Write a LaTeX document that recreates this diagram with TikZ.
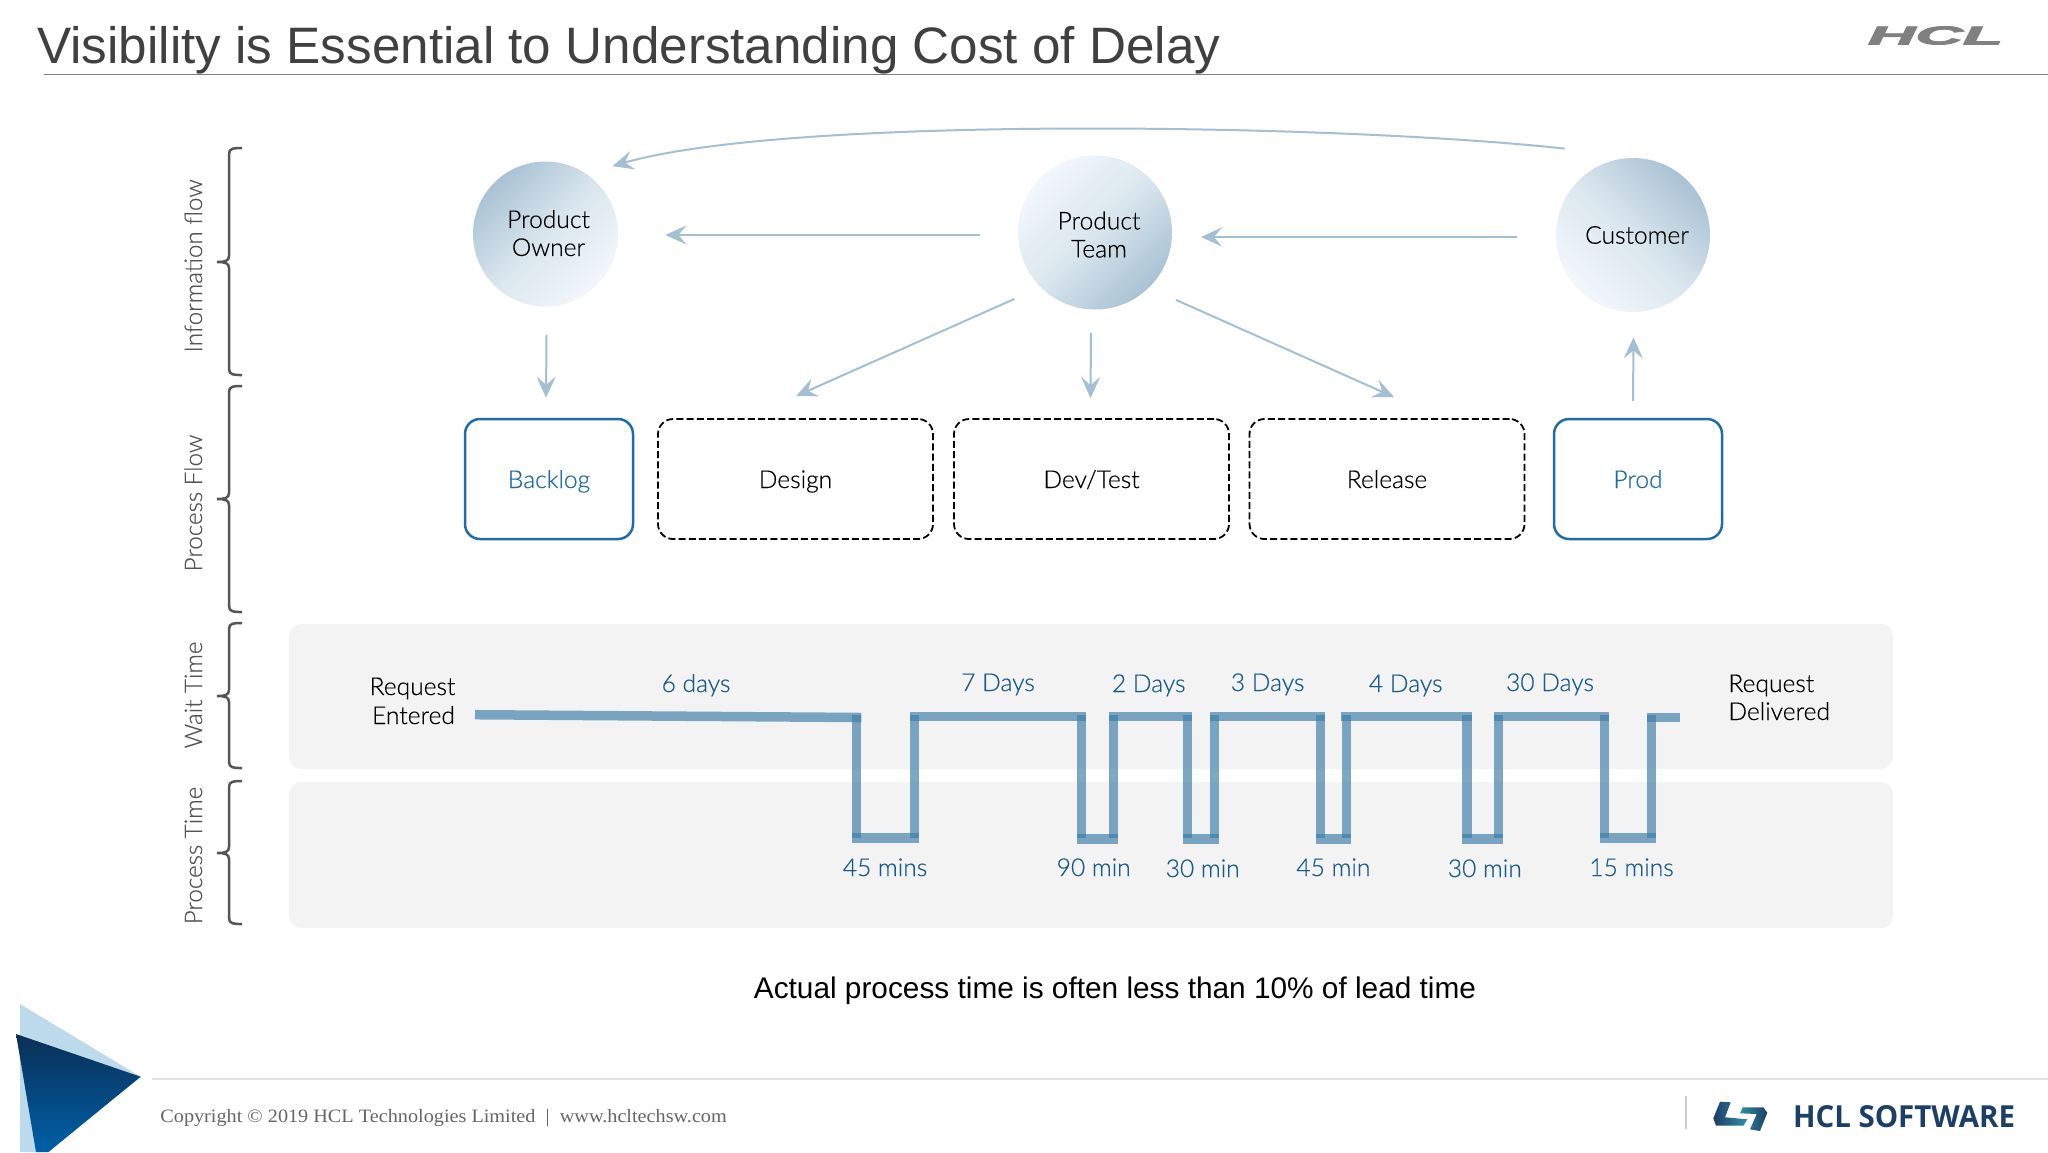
\documentclass[tikz,border=0pt]{standalone}
\usepackage{fontspec}
\usepackage{graphicx}
\usetikzlibrary{arrows.meta,calc,shapes.geometric}
\setmainfont{Lato Light}[FakeBold=0.4]
\newfontfamily\arialf{Liberation Sans}
\newfontfamily\copyf{Liberation Serif}[FakeStretch=1.07]
\newfontfamily\brandf{Open Sans}
\newfontfamily\hclf{Liberation Sans Bold Italic}[FakeBold=3]
\definecolor{flow}{HTML}{A3BFD3}
\definecolor{wave}{HTML}{3F7FA9}
\definecolor{bluetext}{HTML}{185C8A}
\definecolor{boxblue}{HTML}{1F6CA8}
\definecolor{panelc}{HTML}{F3F3F4}
\definecolor{brace}{HTML}{555555}
\definecolor{ballA}{HTML}{A9C2D4}
\definecolor{ballM}{HTML}{DAE6EE}
\definecolor{ballB}{HTML}{F2F7FC}
\definecolor{brand}{HTML}{1C3F66}
\definecolor{teal}{HTML}{2E8FA3}
\definecolor{triL}{HTML}{BDD9EC}
\definecolor{triT}{HTML}{0A2F55}
\definecolor{triB}{HTML}{0060A8}
\tikzset{
  lab/.style={font=\fontsize{12.3}{14}\selectfont,inner sep=0pt,anchor=base},
  bluelab/.style={lab,text=bluetext,font=\fontsize{12.3}{14}\selectfont},
  sidelab/.style={lab,rotate=90,text=brace,font=\fontsize{12.1}{14}\selectfont},
  bubble/.style={circle,inner sep=0pt,align=center,font=\fontsize{12.3}{14}\selectfont},
  stagebox/.style={rectangle,rounded corners=7.5pt,minimum height=60pt,inner sep=0pt,text height=9pt,text depth=0pt,font=\fontsize{12.3}{14}\selectfont},
  solidbox/.style={stagebox,draw=boxblue,line width=1.25pt,minimum width=84pt,text=boxblue},
  dashbox/.style={stagebox,draw=black,line width=.9pt,dash pattern=on 3.5pt off 1.6pt,minimum width=137.5pt},
  flowline/.style={draw=flow,line width=1pt,-{Stealth[length=10.5pt,width=9.5pt,inset=4pt]}},
  flowwide/.style={flowline,line width=1.3pt},
  panel/.style={fill=panelc,rounded corners=6pt},
  wavebar/.style={draw=wave,opacity=.68,line width=4.75pt},
  bracepath/.style={draw=brace,line width=1.25pt}
}
\newcommand{\levelbrace}[3]{%
  \draw[bracepath] (242,#1) .. controls (234,#1) and (229,#1) .. (229,{#1+6}) -- (229,{#2-6})
    .. controls (229,{#2-1}) and (225,#2) .. (217,#2) .. controls (225,#2) and (229,{#2+1}) .. (229,{#2+6})
    -- (229,{#3-6}) .. controls (229,#3) and (234,#3) .. (242,#3);}
\begin{document}
\begin{tikzpicture}[x=.5pt,y=-.5pt]
\useasboundingbox (0,0) rectangle (2048,1152);
\fill[white] (0,0) rectangle (2048,1152);
% header
\node[lab,anchor=base west,text=black!75,font=\arialf\fontsize{25.6}{30}\selectfont] (title) at (37,63.5) {Visibility is Essential to Understanding Cost of Delay};
\draw[black!50,line width=.75pt] (44,74.5) -- (2048,74.5);
\node[inner sep=0pt,text=black!50] (hcltop) at (1935.5,35.5) {\resizebox{67.5pt}{9pt}{\hclf HCL}};
% panels
\fill[panel] (289,624) rectangle (1893,769);
\fill[panel] (289,782) rectangle (1893,928);
% braces
\levelbrace{148}{262}{375}
\levelbrace{386}{499}{612}
\levelbrace{623}{696}{768}
\levelbrace{781}{853}{924}
\node[sidelab] (s1) at (202,265.8) {Information flow};
\node[sidelab] (s2) at (202,503) {Process Flow};
\node[sidelab] (s3) at (202,695) {Wait Time};
\node[sidelab] (s4) at (202,855.5) {Process Time};
% bubbles
\node[bubble,minimum size=72.5pt,top color=ballA,bottom color=ballB,middle color=ballM,shading angle=45] (po) at (545.5,234) {\hspace*{3pt}Product\\\hspace*{3pt}Owner\rule[-1pt]{0pt}{0pt}};
\node[bubble,minimum size=77pt,top color=ballB,bottom color=ballA,middle color=ballM,shading angle=45] (pt) at (1095,232.5) {\rule{0pt}{11pt}\hspace*{4pt}Product\\\hspace*{4pt}Team};
\node[bubble,minimum size=77pt,top color=ballA,bottom color=ballB,middle color=ballM,shading angle=-45] (cu) at (1633,235) {\hspace*{4pt}Customer};
% boxes
\node[solidbox] (backlog) at (549,479) {Backlog};
\node[dashbox] (design) at (795.5,479) {Design};
\node[dashbox] (dev) at (1091.5,479) {Dev/Test};
\node[dashbox] (release) at (1387,479) {Release};
\node[solidbox] (prod) at (1638,479) {Prod};
% connectors
\draw[flowwide] ($(pt.west)+(-38,2.5)$) -- ($(po.east)+(47,1)$);
\draw[flowwide] ($(cu.west)+(-38.5,2)$) -- ($(pt.east)+(28.5,4.5)$);
\draw[flowline] ($(cu.north)+(-68.5,-9)$) .. controls (1340,124) and (790,115) .. ($(po.north)+(67,5)$);
\draw[flowline] ($(po.south)+(1,28)$) -- ($(backlog.north)+(-3,-20)$);
\draw[flowline] ($(pt.south)+(-80.5,-11)$) -- ($(design.north)+(.5,-22)$);
\draw[flowline] ($(pt.south)+(-4,23)$) -- ($(dev.north)+(-1,-20)$);
\draw[flowline] ($(pt.south)+(81,-10)$) -- ($(release.north)+(7,-21)$);
\draw[flowline] ($(prod.north)+(-5,-17)$) -- ($(cu.south)+(.5,25)$);
% wave
\draw[wavebar] (475,714.7) -- (861.3,717.5);
\foreach \a/\b in {910/1086,1109/1192,1210/1325,1341/1472,1494/1609.4}
  \draw[wavebar] (\a,716.5) -- (\b,716.5);
\draw[wavebar] (1647,717.5) -- (1680,717.5);
\foreach \a/\b/\c in {851.7/919.3/838,1077/1118.3/839,1182.7/1219/839,1315.6/1351/839,1462.3/1502.6/839,1599.5/1656.4/838}
  \draw[wavebar] (\a,\c) -- (\b,\c);
\foreach \a in {856.5,914.7,1081.7,1113.7,1187.3,1214.3,1320.3,1346.4,1467,1498.3,1604.4,1651.7}
  \draw[wavebar] (\a,715) -- (\a,838);
% wave labels
\node[bluelab] (w1) at (696,692) {6 days};
\node[bluelab] (w2) at (998,691) {7 Days};
\node[bluelab] (w3) at (1148.7,692) {2 Days};
\node[bluelab] (w4) at (1267.6,691) {3 Days};
\node[bluelab] (w5) at (1405.7,692) {4 Days};
\node[bluelab] (w6) at (1550,691) {30 Days};
\node[bluelab] (m1) at (885,876) {45 mins};
\node[bluelab] (m2) at (1093.7,876) {90 min};
\node[bluelab] (m3) at (1202.7,877) {30 min};
\node[bluelab] (m4) at (1333.4,876) {45 min};
\node[bluelab] (m5) at (1484.8,877) {30 min};
\node[bluelab] (m6) at (1631.5,876) {15 mins};
\node[lab,anchor=base] (req1) at (412.5,695) {Request};
\node[lab,anchor=base] (req2) at (413.5,724) {Entered};
\node[lab,anchor=base west] (del1) at (1728,692) {Request};
\node[lab,anchor=base west] (del2) at (1728,720) {Delivered};
% caption
\node[lab,font=\arialf\fontsize{14.9}{18}\selectfont,text=black] (cap) at (1115,998) {Actual process time is often less than 10\% of lead time};
% footer
\fill[triL] (20,1004) -- (141,1077) -- (45,1152) -- (20,1152) -- cycle;
\shade[top color=triT,bottom color=triB] (16,1034) -- (140.6,1076.7) -- (48.5,1152) -- (36,1152) -- cycle;
\draw[black!12,line width=.75pt] (152,1079) -- (2048,1079);
\node[lab,anchor=base west,text=black!60,font=\copyf\fontsize{9.45}{10}\selectfont] (copy) at (160,1122) {Copyright © 2019 HCL Technologies Limited \ |\ \ www.hcltechsw.com};
\draw[black!20,line width=.6pt] (1686,1096) -- (1686,1129);
\shade[left color=brand,right color=teal] (1720,1101.7) -- (1730.7,1102.3) -- (1725,1117.3) -- (1747.3,1119.3) -- (1743.3,1125.7) -- (1716,1125.7) -- (1713.3,1118.3) -- cycle;
\shade[left color=teal,right color=brand] (1742.7,1107.3) -- (1763.3,1107.3) -- (1767.3,1112.7) -- (1760,1131) -- (1750,1129.3) -- (1756.7,1114) -- (1740,1113.3) -- cycle;
\node[inner sep=0pt,text=brand] (sw) at (1904,1117) {\resizebox{111pt}{11pt}{\brandf\bfseries HCL SOFTWARE}};
\end{tikzpicture}
\end{document}
